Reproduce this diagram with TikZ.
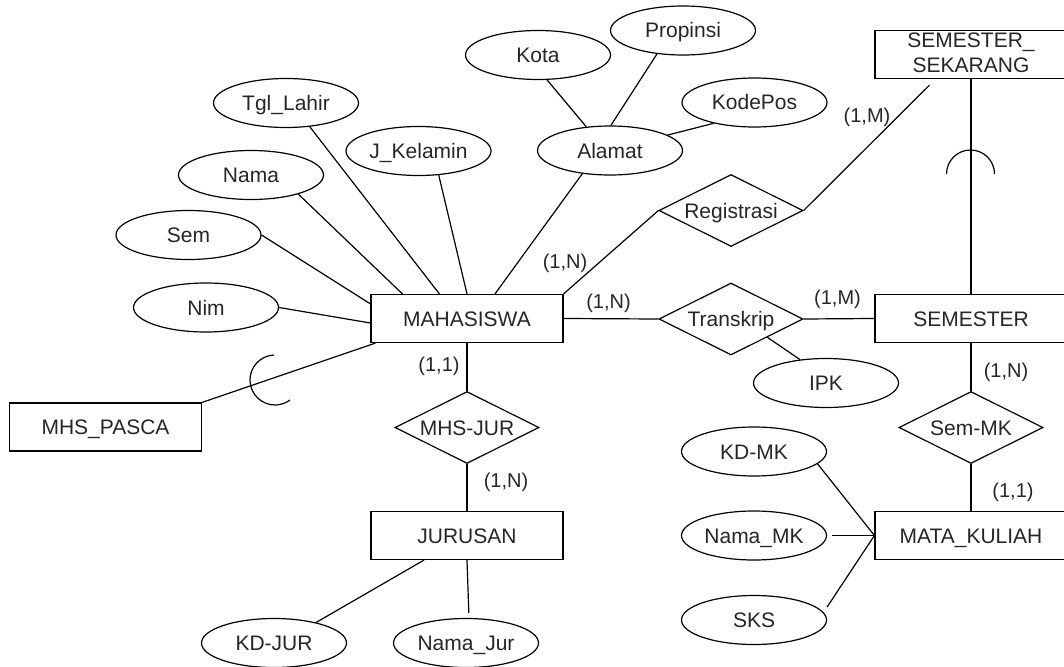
\documentclass[tikz,border=0pt]{standalone}
\usepackage{fontspec}
\setmainfont{Liberation Sans}
\usetikzlibrary{shapes.geometric,calc}

\begin{document}
\begin{tikzpicture}[x=1pt,y=-1pt,line width=1.2pt,
  every node/.style={font=\fontsize{21}{25}\selectfont,text=black!85,inner sep=0pt},
  lbl/.style={text height=15pt,text depth=0pt},
  entity/.style={lbl,draw=black,rectangle,minimum width=192pt,minimum height=48pt},
  attr/.style={lbl,draw=black,ellipse,minimum width=145pt,minimum height=49pt},
  rel/.style={lbl,draw=black,diamond,aspect=2,minimum width=144pt,minimum height=72pt},
  card/.style={lbl,font=\fontsize{20}{24}\selectfont}]

\fill[white] (0,0) rectangle (1064,666);
\clip (0,0) rectangle (1064,666);

% entities
\node[entity] (maha)  at (467,318.5)  {MAHASISWA};
\node[entity] (sem)   at (971,318.5)  {SEMESTER};
\node[entity] (ss)    at (971,54.5)   {};
\node[align=center] (sstext) at (971,52.5) {SEMESTER\_\\SEKARANG};
\node[entity] (pasca) at (105.5,427)  {MHS\_PASCA};
\node[entity] (jur)   at (467,535.5)  {JURUSAN};
\node[entity] (mk)    at (971,535.5)  {MATA\_KULIAH};

% relationships
\node[rel] (reg)    at (731,210.5) {Registrasi};
\node[rel] (trans)  at (731,319)   {Transkrip};
\node[rel] (mhsjur) at (467,427.5) {MHS-JUR};
\node[rel] (semmk)  at (971,427.5) {Sem-MK};

% attributes
\node[attr] (kota)    at (538,55)     {Kota};
\node[attr] (prop)    at (683,30.5)   {Propinsi};
\node[attr] (kodepos) at (754.5,102.5){KodePos};
\node[attr] (alamat)  at (610,150.5)  {Alamat};
\node[attr] (tgl)     at (286,103)    {Tgl\_Lahir};
\node[attr] (jk)      at (418.5,151)  {J\_Kelamin};
\node[attr] (nama)    at (251,175)    {Nama};
\node[attr] (semattr) at (188.5,235)  {Sem};
\node[attr] (nim)     at (206,307.5)  {Nim};
\node[attr] (ipk)     at (826,383)    {IPK};
\node[attr] (kdmk)    at (754,451.5)  {KD-MK};
\node[attr] (namamk)  at (754,535.5)  {Nama\_MK};
\node[attr] (sks)     at (754,620)    {SKS};
\node[attr] (kdjur)   at (274,643)    {KD-JUR};
\node[attr] (namajur) at (466,643)    {Nama\_Jur};

% free ends
\coordinate (regend) at ($(ss.south)+(-41.5,6)$);
\coordinate (sksend) at ($(sks.east)+(0,-13)$);

% attribute links of MAHASISWA
\draw (tgl.-45)      -- ($(maha.north west)+(69,0)$);
\draw (nama.-22)     -- ($(maha.north west)+(32,0)$);
\draw (jk.-50)       -- (maha.north);
\draw (alamat.-140)  -- ($(maha.north)+(28,0)$);
\draw (semattr.east) -- ($(maha.north west)+(0,10)$);
\draw (nim.east)     -- ($(maha.west)+(0,4.5)$);

% composite address
\draw (kota.-70)     -- (alamat.135);
\draw (prop.-138)    -- (alamat.88);
\draw (kodepos.-153) -- (alamat.15.5);

% relationships
\draw (maha.north east) -- (reg.west);
\draw (reg.east) -- (regend);
\draw (maha.east) -- (trans.west);
\draw (trans.east) -- (sem.west);
\draw ($(trans.east)!0.5!(trans.south)$) -- (ipk.138);
\draw (ss.south) -- (sem.north);
\draw (sem.south) -- (semmk.north);
\draw (semmk.south) -- (mk.north);
\draw (maha.south) -- (mhsjur.north);
\draw (mhsjur.south) -- (jur.north);
\draw (pasca.north east) -- ($(maha.south west)+(5,0)$);

% attributes of JURUSAN and MATA_KULIAH
\draw ($(jur.south)+(-43,0)$) -- (kdjur.26);
\draw[shorten >=5pt] (jur.south) -- ($(namajur.north)+(3,0)$);
\draw (kdmk.-11) -- (mk.west);
\draw[shorten <=5pt] (namamk.east) -- (mk.west);
\draw (sksend) -- (mk.west);

% subset arcs
\draw (946.5,174) arc[start angle=180,end angle=360,radius=24];
\draw ($(275,380)+(268:25)$) arc[start angle=268,end angle=53,radius=25];

% cardinalities
\node[card] (c1) at (565,261)   {(1,N)};
\node[card] (c2) at (867,115)   {(1,M)};
\node[card] (c3) at (608.5,301) {(1,N)};
\node[card] (c4) at (837.5,297) {(1,M)};
\node[card] (c5) at (439,364)   {(1,1)};
\node[card] (c6) at (506,479.5) {(1,N)};
\node[card] (c7) at (1006,369.5){(1,N)};
\node[card] (c8) at (1013,489.5){(1,1)};
\end{tikzpicture}
\end{document}
